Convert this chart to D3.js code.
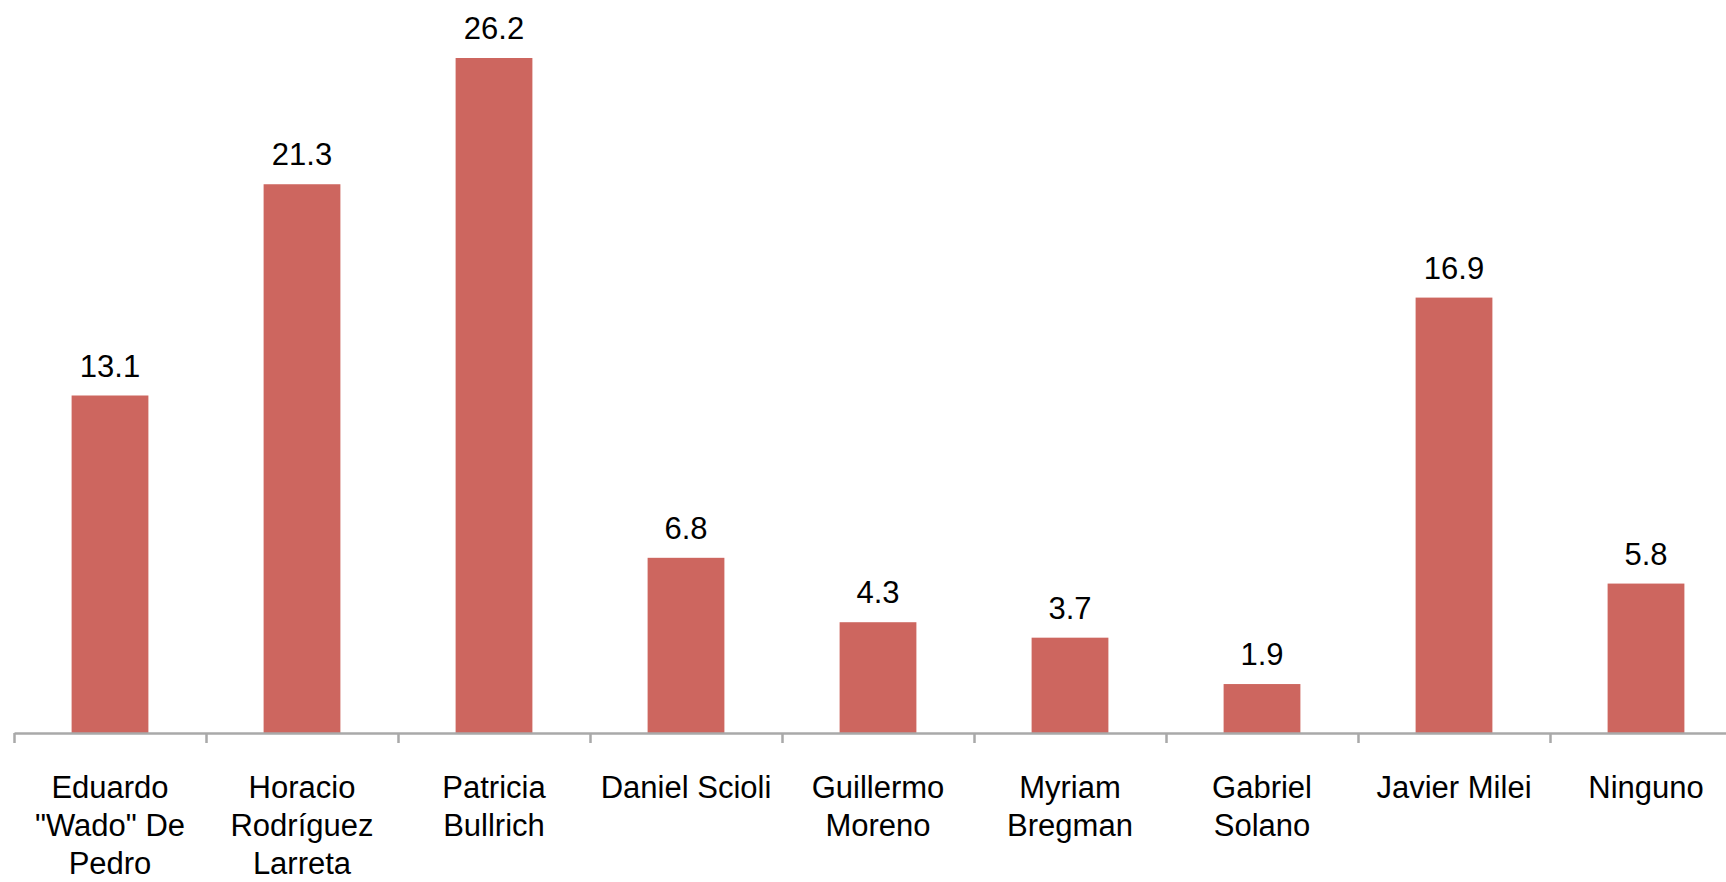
<!DOCTYPE html>
<html>
<head>
<meta charset="utf-8">
<script src="https://cdn.jsdelivr.net/npm/d3@7"></script>
<style>
  html, body { margin: 0; padding: 0; background: #fff; }
  svg text { font-family: "Liberation Sans", Arial, sans-serif; fill: #000; }
</style>
</head>
<body>
<svg id="chart" width="1726" height="882"></svg>
<script>
// candidates, split into the lines they show under the axis
const categories = [
  "Eduardo\n\"Wado\" De\nPedro",
  "Horacio\nRodríguez\nLarreta",
  "Patricia\nBullrich",
  "Daniel Scioli",
  "Guillermo\nMoreno",
  "Myriam\nBregman",
  "Gabriel\nSolano",
  "Javier Milei",
  "Ninguno"
];
const values = [13.1, 21.3, 26.2, 6.8, 4.3, 3.7, 1.9, 16.9, 5.8];

const svg = d3.select("#chart");
const left = 14, step = 192, baseY = 733, topY = 58;

const x = d3.scaleBand()
  .domain(categories)
  .range([left, left + step * categories.length])
  .paddingInner(0.6)
  .paddingOuter(0.3);

const y = d3.scaleLinear()
  .domain([0, d3.max(values)])
  .range([baseY, topY]);

// bars
svg.selectAll("rect.bar")
  .data(values)
  .enter()
  .append("rect")
  .attr("class", "bar")
  .attr("x", (d, i) => x(categories[i]))
  .attr("y", d => y(d))
  .attr("width", x.bandwidth())
  .attr("height", d => baseY - y(d))
  .attr("fill", "#CD665F");

// value labels
svg.selectAll("text.val")
  .data(values)
  .enter()
  .append("text")
  .attr("class", "val")
  .attr("x", (d, i) => x(categories[i]) + x.bandwidth() / 2)
  .attr("y", d => y(d) - 19)
  .attr("text-anchor", "middle")
  .attr("font-size", 31)
  .text(d => d.toFixed(1));

// axis with ticks between categories
const edge = d3.scaleLinear()
  .domain([0, categories.length])
  .range(x.range());

const axis = svg.append("g")
  .attr("transform", `translate(0,${baseY})`)
  .call(d3.axisBottom(edge)
    .tickValues(d3.range(categories.length + 1))
    .tickFormat("")
    .tickSizeInner(10)
    .tickSizeOuter(0));
axis.select(".domain").attr("stroke", "#a9a9a9").attr("stroke-width", 2.5);
axis.selectAll(".tick line").attr("stroke", "#a9a9a9").attr("stroke-width", 2.5);

// category labels
const lab = svg.selectAll("text.cat")
  .data(categories)
  .enter()
  .append("text")
  .attr("class", "cat")
  .attr("text-anchor", "middle")
  .attr("font-size", 31)
  .attr("x", d => x(d) + x.bandwidth() / 2)
  .attr("y", 798);

lab.selectAll("tspan")
  .data(d => d.split("\n"))
  .enter()
  .append("tspan")
  .attr("x", function () { return this.parentNode.getAttribute("x"); })
  .attr("dy", (d, i) => i === 0 ? 0 : 38)
  .text(d => d);
</script>
</body>
</html>
